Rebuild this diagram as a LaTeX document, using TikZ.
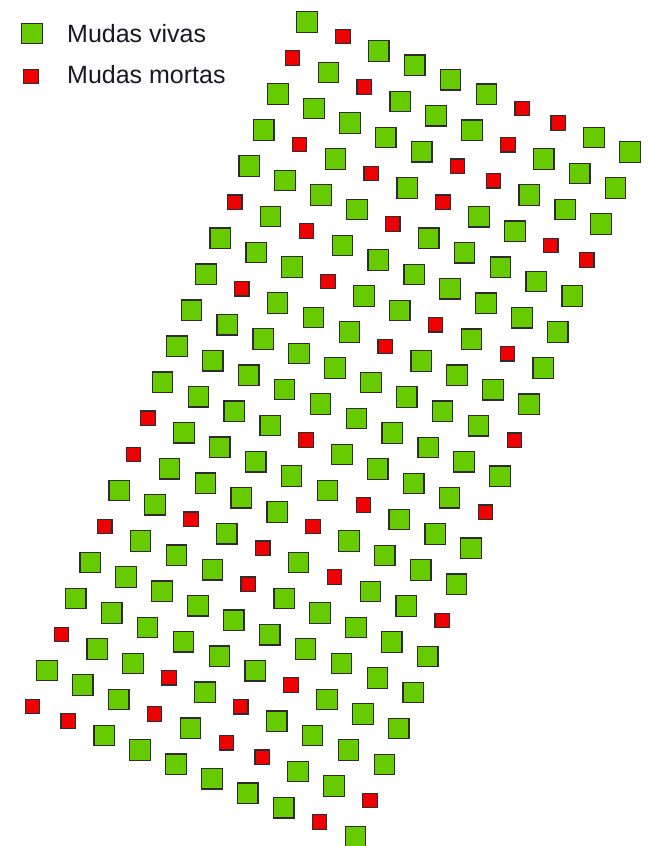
\documentclass[tikz,border=0pt]{standalone}
\usepackage{fontspec}
\setmainfont{Liberation Sans}
\definecolor{vivo}{RGB}{102,204,0}
\definecolor{morto}{RGB}{240,0,0}
\definecolor{borda}{RGB}{45,45,45}
\definecolor{texto}{RGB}{25,25,35}
\tikzset{
  sqG/.style={rectangle, draw=borda, line width=1.2pt, fill=vivo, minimum size=20.5pt, inner sep=0pt},
  sqR/.style={rectangle, draw=borda, line width=1.2pt, fill=morto, minimum size=14.5pt, inner sep=0pt},
  legtext/.style={anchor=base west, inner sep=0pt, text=texto, font=\fontsize{25}{30}\selectfont}
}
\begin{document}
\begin{tikzpicture}[x=1pt,y=-1pt]
\useasboundingbox[fill=white] (0,0) rectangle (649,846);
% legend
\node[sqG] (lgG) at (32,33.5) {};
\node[legtext] (lgGt) at (67,42) {Mudas vivas};
\node[sqR] (lgR) at (31,76.5) {};
\node[legtext] (lgRt) at (67,83) {Mudas mortas};
% lattice of seedlings
\foreach \r/\pattern in {
 0/{G,R,G,G,G,G,R,R,G,G},
 1/{R,G,R,G,G,G,R,G,G,G},
 2/{G,G,G,G,G,R,R,G,G,G},
 3/{G,R,G,R,G,R,G,G,R,R},
 4/{G,G,G,G,R,G,G,G,G,G},
 5/{R,G,R,G,G,G,G,G,G,G},
 6/{G,G,G,R,G,G,R,G,R,G},
 7/{G,R,G,G,G,R,G,G,G,G},
 8/{G,G,G,G,G,G,G,G,G,R},
 9/{G,G,G,G,G,G,G,G,G,G},
 10/{G,G,G,G,R,G,G,G,G,R},
 11/{R,G,G,G,G,G,R,G,G,G},
 12/{R,G,G,G,G,R,G,G,G,G},
 13/{G,G,R,G,R,G,R,G,G,R},
 14/{R,G,G,G,R,G,G,G,G,G},
 15/{G,G,G,G,G,G,G,G,G,G},
 16/{G,G,G,G,G,G,R,G,G,G},
 17/{R,G,G,R,G,R,G,G,G,G},
 18/{G,G,G,R,G,R,R,G,G,R},
 19/{R,R,G,G,G,G,G,G,R,G}}{
  \foreach \c [count=\k from 0] in \pattern {
    \node[sq\c] (p-\r-\k) at ({307+35.89*\k-14.45*\r},{22+14.44*\k+36.03*\r}) {};
  }
}
\end{tikzpicture}
\end{document}
